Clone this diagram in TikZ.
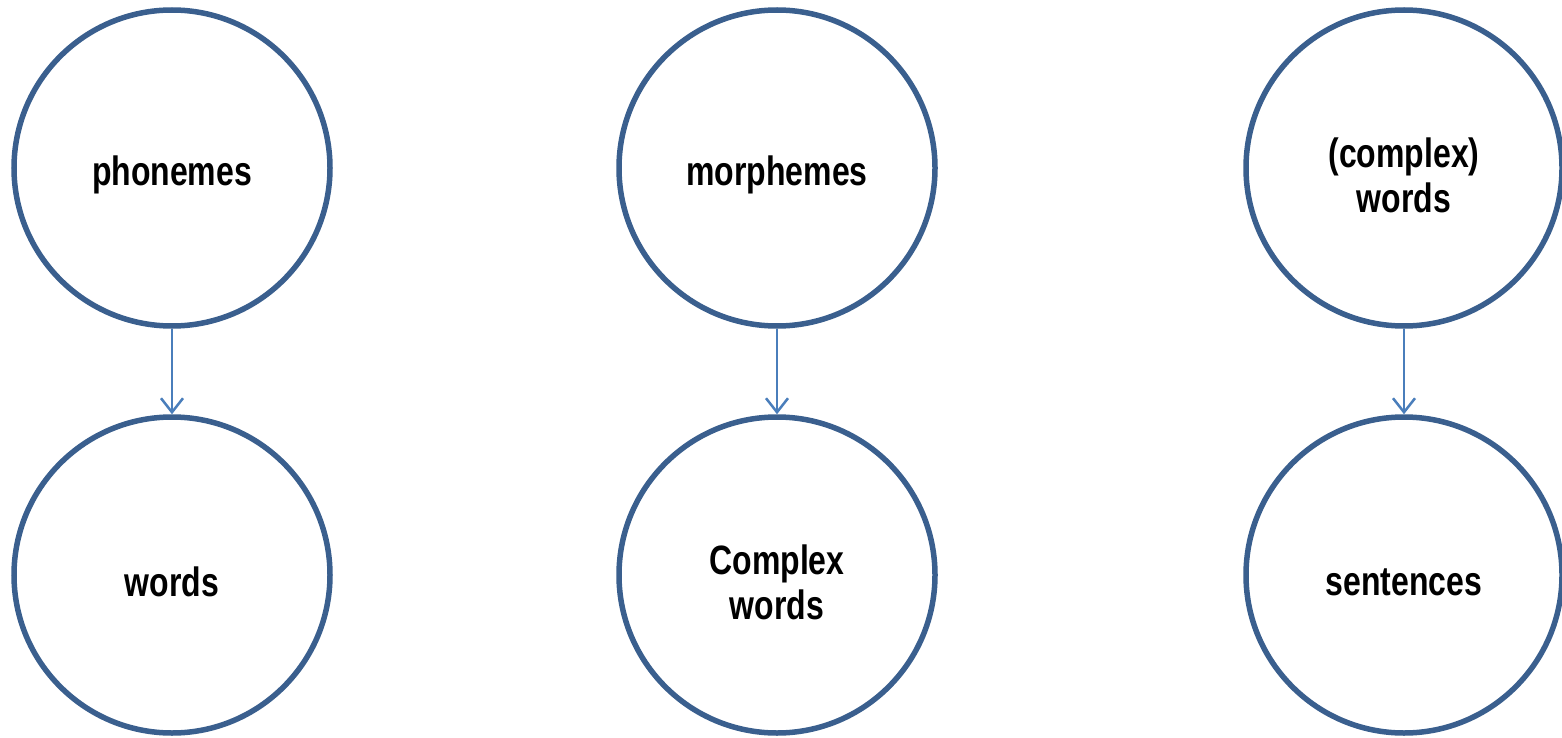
\documentclass[tikz,border=0pt]{standalone}
\usepackage{fontspec}
\setmainfont{Liberation Sans}[FakeStretch=0.78]
\usetikzlibrary{arrows.meta}
\definecolor{circblue}{HTML}{3A5F8E}
\definecolor{arrblue}{HTML}{4A7EBB}
\begin{document}
\begin{tikzpicture}[x=1pt,y=-1pt,
  bubble/.style={circle,draw=circblue,line width=5.5pt,minimum size=316pt,inner sep=0pt},
  txt/.style={label={[yshift=-7pt,align=center,font=\fontsize{41}{45}\selectfont\bfseries]center:#1}},
  link/.style={draw=arrblue,line width=2.5pt,-{Straight Barb[length=14pt,width=22pt,line width=2.5pt]}}]
\useasboundingbox (0,0) rectangle (1562,738);
\node[bubble,txt={phonemes}] (p) at (172,168) {};
\node[bubble,txt={words}] (w) at (172,575) {};
\node[bubble,txt={morphemes}] (m) at (777,168) {};
\node[bubble,txt={Complex\\words}] (cw) at (777,575) {};
\node[bubble,txt={(complex)\\words}] (c) at (1404,168) {};
\node[bubble,txt={sentences}] (s) at (1404,575) {};
\draw[link] (p) -- (w);
\draw[link] (m) -- (cw);
\draw[link] (c) -- (s);
\end{tikzpicture}
\end{document}
